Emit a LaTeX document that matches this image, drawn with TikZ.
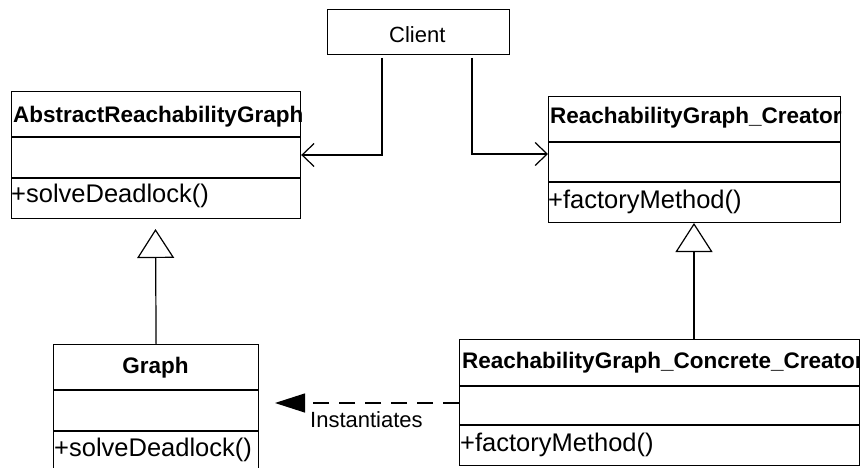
\documentclass[tikz,border=0pt]{standalone}
\usepackage{fontspec}
\setmainfont{Liberation Sans}
\usetikzlibrary{arrows.meta}

\tikzset{
  umlbox/.style={draw, line width=1.2pt, rectangle, inner sep=0pt, anchor=north west},
  divider/.style={line width=1.2pt},
  titletext/.style={anchor=base west, inner sep=0pt, font=\fontsize{22.5}{27}\selectfont\bfseries},
  methodtext/.style={anchor=base west, inner sep=0pt, font=\fontsize{25.5}{30}\selectfont},
  plaintext/.style={anchor=base west, inner sep=0pt, font=\fontsize{22}{26}\selectfont},
  assoc/.style={line width=1.2pt, -{Straight Barb[length=12pt,width=23pt,line width=1.2pt]}},
  gen/.style={line width=1.2pt, -{Triangle[open,length=29pt,width=37pt,line width=1.2pt,fill=white]}},
  dep/.style={line width=1.2pt, dash pattern=on 16pt off 10pt, -{Triangle[length=30pt,width=19pt]}},
}

\begin{document}
\begin{tikzpicture}[x=1pt,y=-1pt]
\useasboundingbox (0,0) rectangle (860,468);
\clip (0,0) rectangle (860,468);

% Client
\node[umlbox, minimum width=182pt, minimum height=45pt] (client) at (327,9) {};
\node[plaintext] (clientname) at (389,43) {Client};

% AbstractReachabilityGraph
\node[umlbox, minimum width=289pt, minimum height=127pt] (arg) at (11,91) {};
\draw[divider] (arg.west |- 0,137) -- (arg.east |- 0,137);
\draw[divider] (arg.west |- 0,178) -- (arg.east |- 0,178);
\begin{scope}
  \clip (arg.north west) rectangle (arg.south east);
  \node[titletext] (argname) at (13,123) {AbstractReachabilityGraph};
  \node[methodtext] (argop) at (11,203) {+solveDeadlock()};
\end{scope}

% ReachabilityGraph_Creator
\node[umlbox, minimum width=292pt, minimum height=126pt] (creator) at (548,96) {};
\draw[divider] (creator.west |- 0,142) -- (creator.east |- 0,142);
\draw[divider] (creator.west |- 0,182) -- (creator.east |- 0,182);
\begin{scope}
  \clip (creator.north west) rectangle (creator.south east);
  \node[titletext] (creatorname) at (550,124) {ReachabilityGraph\_Creator};
  \node[methodtext] (creatorop) at (548,208) {+factoryMethod()};
\end{scope}

% Graph
\node[umlbox, minimum width=205pt, minimum height=132pt] (graph) at (53,344) {};
\draw[divider] (graph.west |- 0,390) -- (graph.east |- 0,390);
\draw[divider] (graph.west |- 0,431) -- (graph.east |- 0,431);
\node[titletext, anchor=base] (graphname) at (155.5,373) {Graph};
\node[methodtext] (graphop) at (54,456) {+solveDeadlock()};

% ReachabilityGraph_Concrete_Creator
\node[umlbox, minimum width=400pt, minimum height=126pt] (concrete) at (459,339) {};
\draw[divider] (concrete.west |- 0,386) -- (concrete.east |- 0,386);
\draw[divider] (concrete.west |- 0,425) -- (concrete.east |- 0,425);
\begin{scope}
  \clip (concrete.north west) rectangle (concrete.south east);
  \node[titletext] (concretename) at (462,368) {ReachabilityGraph\_Concrete\_Creator};
  \node[methodtext] (concreteop) at (460,451) {+factoryMethod()};
\end{scope}

% Associations from Client
\coordinate (cl1) at (382,58);
\coordinate (cl2) at (472,58);
\draw[assoc] (cl1) |- (arg.east |- 0,155);
\draw[assoc] (cl2) |- (creator.west |- 0,154);

% Generalizations
\coordinate (argtip) at (155.5,229);
\draw[gen] (graph.north) -- (argtip);
\coordinate (crtip) at (694,223);
\draw[gen] (concrete.north -| crtip) -- (crtip);

% Instantiation dependency
\coordinate (insttip) at (275,403);
\draw[dep] (concrete.west |- insttip) -- (insttip);
\node[plaintext] (instlabel) at (310,427) {Instantiates};
\end{tikzpicture}
\end{document}
